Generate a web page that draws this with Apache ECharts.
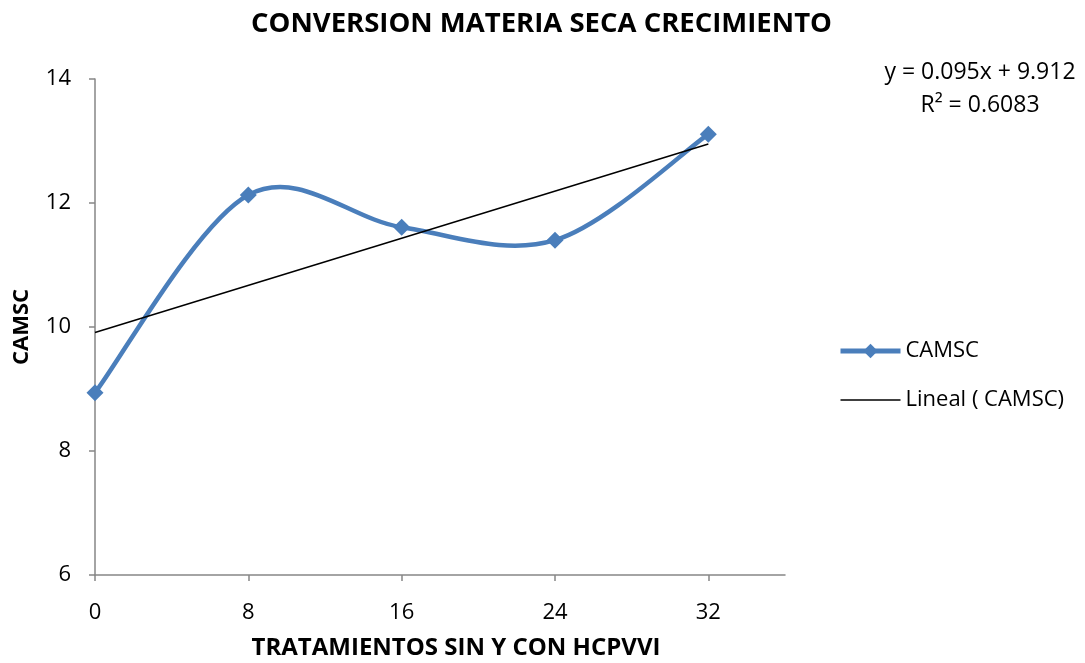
<!DOCTYPE html>
<html>
<head>
<meta charset="utf-8">
<script src="https://cdn.jsdelivr.net/npm/echarts@6/dist/echarts.min.js"></script>
<style>
  html, body { margin: 0; padding: 0; background: #fff; }
  #chart { width: 1085px; height: 663px; }
</style>
</head>
<body>
<div id="chart"></div>
<script>
// datos
var tratamientos = [0, 8, 16, 24, 32];
var camsc = [8.94, 12.13, 11.61, 11.40, 13.11];
// linea de tendencia (extremos)
var trendX = [0, 32];
var trendY = [9.912, 12.952];
var xTicks = [0, 8, 16, 24, 32];

var FONT = '"Open Sans", "Liberation Sans", sans-serif';
var BLUE = '#4A7EBB';

// curva suavizada tipo Excel (Catmull-Rom -> bezier), un tramo por punto
function renderCurve(params, api) {
    var i = params.dataIndex;
    var n = tratamientos.length;
    if (i >= n - 1) return null;
    var pt = function (k) {
        k = Math.max(0, Math.min(n - 1, k));
        return api.coord([tratamientos[k], camsc[k]]);
    };
    var p0 = pt(i - 1), p1 = pt(i), p2 = pt(i + 1), p3 = pt(i + 2);
    return {
        type: 'bezierCurve',
        shape: {
            x1: p1[0], y1: p1[1],
            x2: p2[0], y2: p2[1],
            cpx1: p1[0] + (p2[0] - p0[0]) / 6,
            cpy1: p1[1] + (p2[1] - p0[1]) / 6,
            cpx2: p2[0] - (p3[0] - p1[0]) / 6,
            cpy2: p2[1] - (p3[1] - p1[1]) / 6
        },
        style: { stroke: BLUE, lineWidth: 4.5, fill: null, lineCap: 'round' }
    };
}

var chart = echarts.init(document.getElementById('chart'));
chart.setOption({
    backgroundColor: '#fff',
    animation: false,
    title: {
        text: 'CONVERSION MATERIA SECA CRECIMIENTO',
        left: 246,
        top: 5,
        textStyle: { fontFamily: FONT, fontSize: 27.5, fontWeight: 'bold', color: '#000' }
    },
    grid: { left: 95, right: 300, top: 79, bottom: 88, outerBoundsMode: 'none' },
    legend: {
        orient: 'vertical',
        left: 838,
        top: 340,
        padding: 0,
        itemWidth: 60,
        itemHeight: 18,
        itemGap: 27,
        textStyle: { fontFamily: FONT, fontSize: 22, color: '#000' },
        data: [
            { name: 'CAMSC', lineStyle: { opacity: 1, width: 5, color: BLUE } },
            { name: 'Lineal ( CAMSC)', icon: 'path://M0,0h40v1h-40z' }
        ]
    },
    xAxis: {
        type: 'value',
        min: 0,
        max: 36,
        interval: 8,
        name: 'TRATAMIENTOS SIN Y CON HCPVVI',
        nameLocation: 'middle',
        nameGap: 61,
        nameTextStyle: { fontFamily: FONT, fontSize: 24, fontWeight: 'bold', color: '#000', padding: [0, 0, 0, 32] },
        axisLine: { lineStyle: { color: '#868686', width: 1.5 } },
        axisTick: { show: true, length: 6, customValues: xTicks, lineStyle: { color: '#868686', width: 1.5 } },
        axisLabel: { customValues: xTicks, fontFamily: FONT, fontSize: 22, color: '#000', margin: 27 },
        splitLine: { show: false }
    },
    yAxis: {
        type: 'value',
        min: 6,
        max: 14,
        interval: 2,
        name: 'CAMSC',
        nameLocation: 'middle',
        nameGap: 62,
        nameRotate: 90,
        nameTextStyle: { fontFamily: FONT, fontSize: 22, fontWeight: 'bold', color: '#000' },
        axisLine: { show: true, lineStyle: { color: '#868686', width: 1.5 } },
        axisTick: { show: true, length: 6, lineStyle: { color: '#868686', width: 1.5 } },
        axisLabel: { fontFamily: FONT, fontSize: 22, color: '#000', margin: 24 },
        splitLine: { show: false }
    },
    graphic: [
        {
            type: 'text',
            x: 980,
            y: 56,
            style: {
                text: 'y = 0.095x + 9.912\nR² = 0.6083',
                align: 'center',
                fontFamily: FONT,
                fontSize: 23,
                lineHeight: 33,
                fill: '#000'
            }
        }
    ],
    series: [
        {
            name: 'curva',
            type: 'custom',
            renderItem: renderCurve,
            data: tratamientos.map(function (x, i) { return [x, camsc[i]]; }),
            z: 2
        },
        {
            name: 'CAMSC',
            type: 'line',
            symbol: 'diamond',
            symbolSize: 17,
            itemStyle: { color: BLUE },
            lineStyle: { color: BLUE, width: 0, opacity: 0 },
            data: tratamientos.map(function (x, i) { return [x, camsc[i]]; }),
            z: 3
        },
        {
            name: 'Lineal ( CAMSC)',
            type: 'line',
            symbol: 'none',
            itemStyle: { color: '#000' },
            lineStyle: { color: '#000', width: 1.5 },
            data: trendX.map(function (x, i) { return [x, trendY[i]]; }),
            z: 4
        }
    ]
});
</script>
</body>
</html>
